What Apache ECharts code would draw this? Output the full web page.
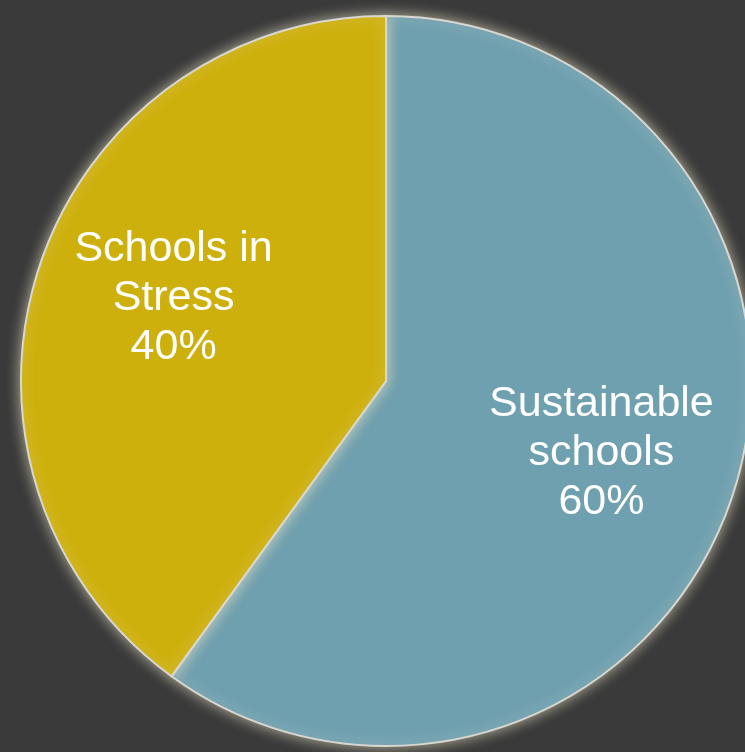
<!DOCTYPE html>
<html>
<head>
<meta charset="utf-8">
<style>
  html, body { margin: 0; padding: 0; background: #3a3a3a; }
  #chart { width: 745px; height: 752px; }
</style>
<script src="https://cdn.jsdelivr.net/npm/echarts@6/dist/echarts.min.js"></script>
</head>
<body>
<div id="chart"></div>
<script>
// School categories and their shares (percent)
const categories = ['Sustainable\nschools', 'Schools in\nStress'];
const shares = [60, 40];
const colors = ['#6fa0b0', '#ceb00c'];
// label nudges outward from the default inner position
const labelOffsets = [[39, 15], [-36, -26]];

const chart = echarts.init(document.getElementById('chart'));
chart.setOption({
  backgroundColor: '#3a3a3a',
  animation: false,
  series: [{
    type: 'pie',
    center: [386, 381],
    radius: 365,
    startAngle: 90,
    clockwise: true,
    avoidLabelOverlap: false,
    label: {
      show: true,
      position: 'inner',
      color: '#ffffff',
      fontFamily: 'Liberation Sans, Arial, sans-serif',
      fontSize: 43,
      lineHeight: 49,
      align: 'center',
      formatter: p => p.name + '\n' + p.value + '%'
    },
    labelLine: { show: false },
    itemStyle: {
      borderColor: '#d9d8d0',
      borderWidth: 2,
      shadowColor: 'rgba(225,220,195,0.75)',
      shadowBlur: 14
    },
    emphasis: { disabled: true },
    data: categories.map((name, i) => ({
      name: name,
      value: shares[i],
      itemStyle: { color: colors[i] },
      label: { offset: labelOffsets[i] }
    }))
  }]
});
</script>
</body>
</html>
